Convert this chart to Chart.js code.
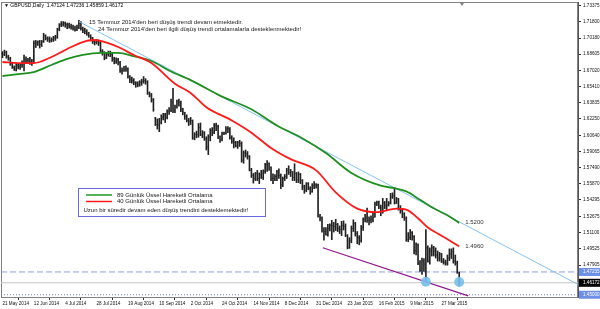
<!DOCTYPE html>
<html><head><meta charset="utf-8">
<script src="https://cdn.jsdelivr.net/npm/chart.js@4.4.1/dist/chart.umd.min.js"></script>
<style>html,body{margin:0;padding:0;background:#fff;overflow:hidden}canvas{display:block}</style>
</head><body><canvas id="c" width="600" height="309"></canvas>
<script>
const dateLabels = ['21 May 2014','12 Jun 2014','4 Jul 2014','28 Jul 2014','19 Aug 2014','10 Sep 2014','2 Oct 2014','24 Oct 2014','14 Nov 2014','8 Dec 2014','31 Dec 2014','23 Jan 2015','16 Feb 2015','9 Mar 2015','27 Mar 2015'];
const dateTickIdx = [0,16,32,48,64,80,96,112,128,144,160,176,192,208,224];
const priceTicks = [1.73375,1.71800,1.70180,1.68605,1.67020,1.65410,1.63835,1.62250,1.60640,1.59065,1.57490,1.55870,1.54295,1.52675,1.51100,1.49525,1.47905];

const opens = [
1.6870,1.6860,1.6880,1.6835,1.6815,1.6770,1.6730,1.6705,1.6750,1.6735,
1.6755,1.6775,1.6810,1.6795,1.6805,1.6780,1.6775,1.6965,1.6970,1.6980,
1.6955,1.6985,1.7040,1.7015,1.7010,1.6995,1.7005,1.7020,1.7025,1.7105,
1.7150,1.7155,1.7165,1.7150,1.7145,1.7130,1.7120,1.7110,1.7100,1.7120,
1.7160,1.7110,1.7095,1.7085,1.7060,1.7040,1.7020,1.6985,1.6975,1.6985,
1.6970,1.6890,1.6880,1.6825,1.6860,1.6870,1.6860,1.6810,1.6790,1.6805,
1.6775,1.6695,1.6700,1.6710,1.6715,1.6640,1.6610,1.6600,1.6580,1.6575,
1.6560,1.6585,1.6595,1.6600,1.6590,1.6480,1.6460,1.6410,1.6235,1.6170,
1.6165,1.6190,1.6240,1.6265,1.6240,1.6300,1.6310,1.6390,1.6310,1.6345,
1.6400,1.6390,1.6320,1.6290,1.6250,1.6210,1.6200,1.6210,1.6040,1.6070,
1.6070,1.6140,1.6070,1.6090,1.6030,1.5950,1.6050,1.6110,1.6090,1.6160,
1.6150,1.6050,1.6020,1.6080,1.6085,1.6125,1.6130,1.6040,1.6005,1.5995,
1.5960,1.5995,1.5985,1.5820,1.5890,1.5880,1.5860,1.5720,1.5670,1.5640,
1.5690,1.5640,1.5680,1.5650,1.5710,1.5775,1.5790,1.5750,1.5640,1.5640,
1.5660,1.5710,1.5670,1.5580,1.5640,1.5660,1.5720,1.5700,1.5710,1.5650,
1.5690,1.5630,1.5680,1.5620,1.5560,1.5525,1.5590,1.5545,1.5510,1.5570,
1.5580,1.5575,1.5270,1.5250,1.5130,1.5120,1.5090,1.5150,1.5180,1.5180,
1.5170,1.5190,1.5150,1.5140,1.5180,1.5170,1.5080,1.4960,1.5030,1.5150,
1.5200,1.5100,1.5060,1.5030,1.5160,1.5240,1.5260,1.5230,1.5230,1.5240,
1.5260,1.5390,1.5410,1.5360,1.5310,1.5400,1.5370,1.5380,1.5400,1.5460,
1.5470,1.5400,1.5440,1.5340,1.5330,1.5290,1.5250,1.5040,1.5060,1.5110,
1.5070,1.4930,1.4990,1.4810,1.4740,1.4830,1.4800,1.4960,1.4830,1.4930,
1.4960,1.4930,1.4890,1.4860,1.4900,1.4830,1.4820,1.4810,1.4860,1.4900,
1.4920,1.4830,1.4810,1.4712];
const highs = [
1.6885,1.6900,1.6890,1.6850,1.6830,1.6780,1.6745,1.6770,1.6765,1.6770,
1.6795,1.6850,1.6835,1.6820,1.6830,1.6810,1.6990,1.6995,1.6990,1.6995,
1.6995,1.7065,1.7050,1.7030,1.7030,1.7020,1.7035,1.7045,1.7115,1.7160,
1.7180,1.7180,1.7175,1.7165,1.7165,1.7155,1.7145,1.7135,1.7145,1.7192,
1.7180,1.7125,1.7115,1.7100,1.7075,1.7050,1.7025,1.7000,1.7005,1.7000,
1.6985,1.6905,1.6885,1.6875,1.6890,1.6890,1.6870,1.6830,1.6825,1.6820,
1.6790,1.6725,1.6740,1.6745,1.6725,1.6650,1.6635,1.6620,1.6590,1.6590,
1.6600,1.6615,1.6640,1.6620,1.6600,1.6490,1.6475,1.6425,1.6240,1.6225,
1.6230,1.6265,1.6280,1.6280,1.6315,1.6335,1.6420,1.6525,1.6360,1.6410,
1.6420,1.6400,1.6330,1.6290,1.6265,1.6230,1.6240,1.6215,1.6090,1.6105,
1.6180,1.6185,1.6110,1.6100,1.6050,1.6070,1.6130,1.6140,1.6180,1.6185,
1.6165,1.6060,1.6095,1.6095,1.6150,1.6150,1.6140,1.6060,1.6040,1.6005,
1.6005,1.6015,1.6000,1.5910,1.5920,1.5905,1.5865,1.5740,1.5690,1.5700,
1.5720,1.5695,1.5720,1.5725,1.5790,1.5815,1.5795,1.5755,1.5685,1.5680,
1.5720,1.5735,1.5685,1.5655,1.5680,1.5740,1.5765,1.5730,1.5710,1.5785,
1.5700,1.5705,1.5690,1.5630,1.5575,1.5600,1.5600,1.5560,1.5590,1.5610,
1.5590,1.5585,1.5290,1.5265,1.5160,1.5160,1.5190,1.5195,1.5230,1.5210,
1.5240,1.5200,1.5175,1.5220,1.5225,1.5195,1.5090,1.5060,1.5175,1.5235,
1.5210,1.5120,1.5080,1.5180,1.5255,1.5290,1.5350,1.5265,1.5275,1.5300,
1.5410,1.5420,1.5420,1.5380,1.5445,1.5415,1.5445,1.5415,1.5495,1.5500,
1.5552,1.5455,1.5445,1.5375,1.5345,1.5305,1.5265,1.5110,1.5140,1.5120,
1.5080,1.5010,1.5000,1.4835,1.4860,1.4855,1.5140,1.4980,1.4960,1.4990,
1.4975,1.4960,1.4930,1.4915,1.4905,1.4855,1.4840,1.4890,1.4950,1.4950,
1.4960,1.4890,1.4830,1.4724];
const lows = [
1.6825,1.6845,1.6820,1.6800,1.6750,1.6720,1.6700,1.6695,1.6715,1.6710,
1.6730,1.6695,1.6770,1.6780,1.6760,1.6750,1.6775,1.6925,1.6945,1.6920,
1.6935,1.6975,1.7000,1.6985,1.6975,1.6980,1.6985,1.6995,1.7015,1.7090,
1.7130,1.7135,1.7125,1.7110,1.7115,1.7105,1.7095,1.7085,1.7090,1.7110,
1.7095,1.7070,1.7060,1.7045,1.7025,1.6990,1.6965,1.6950,1.6960,1.6945,
1.6875,1.6850,1.6805,1.6815,1.6840,1.6835,1.6790,1.6765,1.6770,1.6755,
1.6680,1.6665,1.6690,1.6690,1.6625,1.6580,1.6575,1.6560,1.6535,1.6540,
1.6545,1.6555,1.6575,1.6565,1.6465,1.6440,1.6390,1.6300,1.6160,1.6125,
1.6100,1.6175,1.6215,1.6190,1.6225,1.6270,1.6295,1.6285,1.6285,1.6330,
1.6350,1.6295,1.6265,1.6220,1.6195,1.6160,1.6170,1.6025,1.6020,1.6040,
1.6045,1.6060,1.6040,1.6015,1.5920,1.5875,1.6010,1.6060,1.6080,1.6110,
1.6030,1.5995,1.6010,1.6070,1.6075,1.6090,1.6025,1.5985,1.5940,1.5950,
1.5935,1.5955,1.5800,1.5790,1.5850,1.5830,1.5715,1.5650,1.5595,1.5620,
1.5620,1.5590,1.5640,1.5630,1.5690,1.5710,1.5720,1.5620,1.5590,1.5620,
1.5620,1.5640,1.5540,1.5560,1.5620,1.5640,1.5680,1.5660,1.5620,1.5620,
1.5600,1.5600,1.5590,1.5530,1.5495,1.5510,1.5530,1.5485,1.5505,1.5540,
1.5545,1.5260,1.5225,1.5115,1.5035,1.5085,1.5075,1.5125,1.5040,1.5115,
1.5130,1.5120,1.5100,1.5080,1.5135,1.5070,1.4950,1.4955,1.5010,1.5120,
1.5075,1.5000,1.4990,1.5015,1.5130,1.5215,1.5210,1.5185,1.5205,1.5215,
1.5260,1.5375,1.5345,1.5275,1.5300,1.5345,1.5330,1.5370,1.5390,1.5445,
1.5390,1.5395,1.5330,1.5300,1.5255,1.5230,1.5025,1.5020,1.5040,1.5035,
1.4900,1.4890,1.4795,1.4730,1.4700,1.4730,1.4630,1.4820,1.4800,1.4880,
1.4880,1.4860,1.4830,1.4830,1.4815,1.4800,1.4790,1.4790,1.4835,1.4855,
1.4810,1.4790,1.4710,1.4586];
const closes = [
1.6860,1.6880,1.6835,1.6815,1.6770,1.6730,1.6705,1.6750,1.6735,1.6755,
1.6775,1.6810,1.6795,1.6805,1.6780,1.6775,1.6965,1.6970,1.6980,1.6955,
1.6985,1.7040,1.7015,1.7010,1.6995,1.7005,1.7020,1.7025,1.7105,1.7150,
1.7155,1.7165,1.7150,1.7145,1.7130,1.7120,1.7110,1.7100,1.7120,1.7160,
1.7110,1.7095,1.7085,1.7060,1.7040,1.7020,1.6985,1.6975,1.6985,1.6970,
1.6890,1.6880,1.6825,1.6860,1.6870,1.6860,1.6810,1.6790,1.6805,1.6775,
1.6695,1.6700,1.6710,1.6715,1.6640,1.6610,1.6600,1.6580,1.6575,1.6560,
1.6585,1.6595,1.6600,1.6590,1.6480,1.6460,1.6410,1.6320,1.6170,1.6165,
1.6190,1.6240,1.6265,1.6240,1.6300,1.6310,1.6390,1.6310,1.6345,1.6400,
1.6390,1.6320,1.6290,1.6250,1.6210,1.6200,1.6210,1.6040,1.6070,1.6070,
1.6140,1.6070,1.6090,1.6030,1.5950,1.6050,1.6110,1.6090,1.6160,1.6150,
1.6050,1.6020,1.6080,1.6085,1.6125,1.6130,1.6040,1.6005,1.5995,1.5960,
1.5995,1.5985,1.5820,1.5890,1.5880,1.5860,1.5720,1.5670,1.5640,1.5690,
1.5640,1.5680,1.5650,1.5710,1.5775,1.5790,1.5750,1.5640,1.5640,1.5660,
1.5710,1.5670,1.5580,1.5640,1.5660,1.5720,1.5700,1.5710,1.5650,1.5690,
1.5630,1.5680,1.5620,1.5560,1.5525,1.5590,1.5545,1.5510,1.5570,1.5580,
1.5575,1.5270,1.5250,1.5130,1.5120,1.5090,1.5150,1.5180,1.5180,1.5170,
1.5190,1.5150,1.5140,1.5180,1.5170,1.5080,1.4960,1.5030,1.5150,1.5200,
1.5100,1.5060,1.5030,1.5160,1.5240,1.5260,1.5230,1.5230,1.5240,1.5260,
1.5390,1.5410,1.5360,1.5310,1.5400,1.5370,1.5380,1.5400,1.5460,1.5470,
1.5400,1.5440,1.5340,1.5330,1.5290,1.5250,1.5040,1.5060,1.5110,1.5070,
1.4930,1.4990,1.4810,1.4740,1.4830,1.4800,1.4960,1.4830,1.4930,1.4960,
1.4930,1.4890,1.4860,1.4900,1.4830,1.4820,1.4810,1.4860,1.4900,1.4920,
1.4830,1.4810,1.4720,1.4617];

const ema40Idx = [0,8,16,25,33,41,46,51,59,67,76,88,96,104,117,127,137,147,160,170,181,191,201,206,212,217,222,227,233];
const ema40Val = [1.6783,1.6773,1.6773,1.6832,1.6911,1.6979,1.6999,1.6985,1.6930,1.6852,1.6773,1.6570,1.6480,1.6340,1.6210,1.6090,1.5940,1.5830,1.5720,1.5505,1.5345,1.5310,1.5345,1.5335,1.5250,1.5160,1.5100,1.5045,1.4975];
const ema89Idx = [0,8,16,25,33,41,50,59,67,76,86,96,112,127,140,152,165,178,193,200,206,213,220,227,233];
const ema89Val = [1.6646,1.6665,1.6685,1.6754,1.6813,1.6852,1.6872,1.6872,1.6840,1.6793,1.6690,1.6606,1.6444,1.6320,1.6160,1.6045,1.5890,1.5695,1.5570,1.5545,1.5514,1.5432,1.5348,1.5279,1.5205];

const blueTrendIdx = [39, 293.6];
const blueTrendVal = [1.7180, 1.4601];
const purpleTrendIdx = [163.4, 237.6];
const purpleTrendVal = [1.4961, 1.4488];
const levelVals = [1.47235, 1.46172, 1.45000];
const touchIdx = [216, 233];
const touchVal = [1.4628, 1.4625];

const headerText = '\u25BC GBPUSD,Daily  1.47124 1.47236 1.45859 1.46172';
const note1 = "15 Temmuz 2014'den beri düşüş trendi devam etmektedir.";
const note2 = "24 Temmuz 2014'den beri ilgili düşüş trendi ortalamalarla desteklenmektedir!";
const legend1 = '89 Günlük Üssel Hareketli Ortalama';
const legend2 = '40 Günlük Üssel Hareketli Ortalama';
const legend3 = 'Uzun bir süredir devam eden düşüş trendini desteklemektedir!';
const emaLabel89 = '1.5200';
const emaLabel40 = '1.4960';

const X_MIN = -0.75, X_MAX = 293.6, Y_MIN = 1.44779, Y_MAX = 1.73718;
const FONT = "'Liberation Sans', Arial, sans-serif";

const idxs = closes.map((_, i) => i);
const barData = idxs.map(i => ({x: i, y: [lows[i], highs[i]]}));
const openData = idxs.map(i => ({x: i - 0.3, y: opens[i]}));
const closeData = idxs.map(i => ({x: i + 0.3, y: closes[i]}));
const pairs = (xs, ys) => xs.map((x, k) => ({x: x, y: ys[k]}));
const levelLine = v => [{x: X_MIN, y: v}, {x: X_MAX, y: v}];

const overlay = {
  id: 'overlay',
  beforeDatasetsDraw(chart) {
    const {ctx, chartArea: a} = chart;
    ctx.save();
    ctx.strokeStyle = '#808080'; ctx.lineWidth = 1;
    ctx.strokeRect(Math.round(a.left) + 0.5, Math.round(a.top) + 0.5, Math.round(a.right - a.left) - 1, Math.round(a.bottom - a.top));
    ctx.restore();
  },
  afterDraw(chart) {
    const {ctx, chartArea: a, scales} = chart;
    const ys = scales.y, xs = scales.x;
    ctx.save();
    ctx.textBaseline = 'middle';
    ctx.fillStyle = '#000';
    ctx.font = '5px ' + FONT;
    ctx.textAlign = 'left';
    ctx.fillText(headerText, 4, 6);
    ctx.fillStyle = '#808080';
    ctx.beginPath(); ctx.moveTo(460, 3); ctx.lineTo(464, 3); ctx.lineTo(462, 6); ctx.closePath(); ctx.fill();
    ctx.fillStyle = '#1a1a1a';
    ctx.font = '6px ' + FONT;
    ctx.fillText(note1, 89, 22.5);
    ctx.fillText(note2, 98, 29);
    ctx.fillStyle = '#333';
    ctx.fillText(emaLabel89, xs.getPixelForValue(ema89Idx[ema89Idx.length - 1]) + 6, ys.getPixelForValue(ema89Val[ema89Val.length - 1]) - 1);
    ctx.fillText(emaLabel40, xs.getPixelForValue(ema40Idx[ema40Idx.length - 1]) + 6, ys.getPixelForValue(ema40Val[ema40Val.length - 1]));
    ctx.fillStyle = '#fff';
    ctx.fillRect(78.5, 188.5, 187, 28);
    ctx.strokeStyle = '#6a6ae0'; ctx.lineWidth = 1;
    ctx.strokeRect(78.5, 188.5, 187, 28);
    ctx.lineWidth = 1.5;
    ctx.strokeStyle = '#1f9a1f';
    ctx.beginPath(); ctx.moveTo(86, 195); ctx.lineTo(112, 195); ctx.stroke();
    ctx.strokeStyle = '#ff1a1a';
    ctx.beginPath(); ctx.moveTo(86, 201.5); ctx.lineTo(112, 201.5); ctx.stroke();
    ctx.fillStyle = '#1a1a1a';
    ctx.font = '6px ' + FONT;
    ctx.fillText(legend1, 117, 195);
    ctx.fillText(legend2, 117, 201.5);
    ctx.fillText(legend3, 83.5, 210.5);
    const boxCols = ['#6d8fe6', '#000000', '#6d8fe6'];
    ctx.font = '4.6px ' + FONT;
    levelVals.forEach((v, k) => {
      const py = ys.getPixelForValue(v);
      ctx.fillStyle = boxCols[k];
      ctx.fillRect(a.right + 1, py - 4, 600 - a.right - 1, 8);
      ctx.fillStyle = '#fff';
      ctx.fillText(v.toFixed(5), a.right + 5, py);
    });
    ctx.restore();
  }
};

new Chart(document.getElementById('c'), {
  type: 'bar',
  data: {
    datasets: [
      {type: 'line', data: pairs(touchIdx, touchVal), showLine: false, pointRadius: 5, pointBackgroundColor: 'rgba(120,192,236,0.9)', pointBorderWidth: 0, order: 0},
      {type: 'line', data: pairs(ema40Idx, ema40Val), borderColor: '#ff1a1a', borderWidth: 1.8, pointRadius: 0, cubicInterpolationMode: 'monotone', order: 1},
      {type: 'line', data: pairs(ema89Idx, ema89Val), borderColor: '#1f8f1f', borderWidth: 1.8, pointRadius: 0, cubicInterpolationMode: 'monotone', order: 1},
      {type: 'line', data: pairs(blueTrendIdx, blueTrendVal), borderColor: '#86c3f2', borderWidth: 1, pointRadius: 0, order: 2},
      {type: 'line', data: pairs(purpleTrendIdx, purpleTrendVal), borderColor: '#8e1a8e', borderWidth: 1.3, pointRadius: 0, order: 2},
      {type: 'bar', data: barData, backgroundColor: '#222', barThickness: 1, grouped: false, order: 3},
      {type: 'line', data: openData, showLine: false, pointStyle: 'line', pointRadius: 0.5, pointBorderWidth: 0.7, pointBorderColor: '#555', order: 3},
      {type: 'line', data: closeData, showLine: false, pointStyle: 'line', pointRadius: 0.5, pointBorderWidth: 0.7, pointBorderColor: '#555', order: 3},
      {type: 'line', data: levelLine(levelVals[0]), borderColor: '#8a9ce8', borderWidth: 1, borderDash: [6, 3], pointRadius: 0, order: 5},
      {type: 'line', data: levelLine(levelVals[1]), borderColor: '#c4c4c4', borderWidth: 1, pointRadius: 0, order: 5},
      {type: 'line', data: levelLine(levelVals[2]), borderColor: '#7080e0', borderWidth: 1, borderDash: [1, 2], pointRadius: 0, order: 5}
    ]
  },
  options: {
    responsive: false,
    devicePixelRatio: 1,
    animation: false,
    events: [],
    layout: {autoPadding: false, padding: {left: 1, right: 0, top: 2, bottom: 0}},
    plugins: {legend: {display: false}, tooltip: {enabled: false}},
    scales: {
      x: {
        type: 'linear', min: X_MIN, max: X_MAX, offset: false,
        afterBuildTicks: s => { s.ticks = dateTickIdx.map(v => ({value: v})); },
        afterFit: s => { s.height = 12; s.paddingLeft = 0; s.paddingRight = 0; },
        grid: {drawOnChartArea: false, drawTicks: true, tickLength: 3, color: '#333'},
        border: {display: true, color: '#555'},
        ticks: {autoSkip: false, maxRotation: 0, align: 'start', padding: 1, color: '#111',
          font: {family: FONT, size: 4.6},
          callback: (v, i) => dateLabels[i]}
      },
      y: {
        type: 'linear', position: 'right', min: Y_MIN, max: Y_MAX,
        afterBuildTicks: s => { s.ticks = priceTicks.map(v => ({value: v})); },
        afterFit: s => { s.width = 22; s.paddingTop = 0; s.paddingBottom = 0; },
        grid: {drawOnChartArea: false, drawTicks: true, tickLength: 3, color: '#333'},
        border: {display: true, color: '#555'},
        ticks: {autoSkip: false, padding: 2, color: '#111',
          font: {family: FONT, size: 4.6},
          callback: v => Number(v).toFixed(5)}
      }
    }
  },
  plugins: [overlay]
});
</script>
</body></html>
